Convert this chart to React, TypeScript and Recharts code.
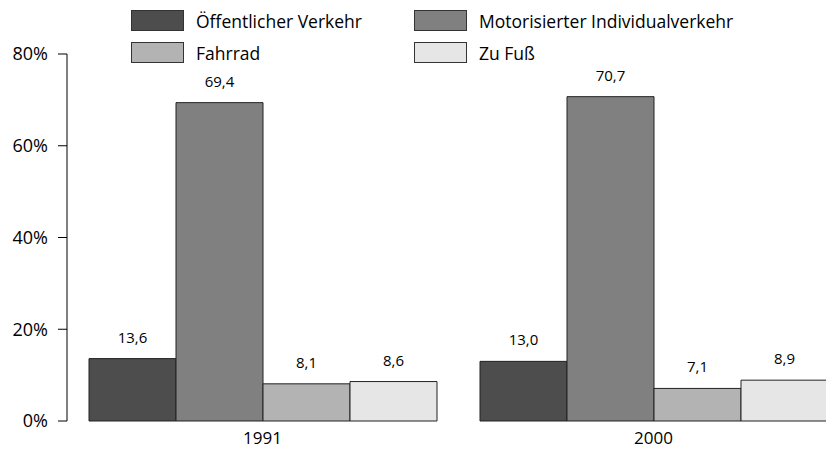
import { BarChart, Bar, XAxis, YAxis, LabelList } from 'recharts';

// ─── Data ───────────────────────────────────────────────────────────
const years = ['1991', '2000'];
const oepnv = [13.6, 13.0];
const miv = [69.4, 70.7];
const fahrrad = [8.1, 7.1];
const fuss = [8.6, 8.9];
const yTicks = [0, 20, 40, 60, 80];

const series = [
  { key: 'oepnv', name: 'Öffentlicher Verkehr', color: '#4d4d4d' },
  { key: 'miv', name: 'Motorisierter Individualverkehr', color: '#808080' },
  { key: 'fahrrad', name: 'Fahrrad', color: '#b3b3b3' },
  { key: 'fuss', name: 'Zu Fuß', color: '#e6e6e6' },
];

const data = years.map((year, i) => ({
  year,
  oepnv: oepnv[i],
  miv: miv[i],
  fahrrad: fahrrad[i],
  fuss: fuss[i],
}));

const FONT = '"Open Sans", "Noto Sans", sans-serif';
const fmt = (v: number) => v.toFixed(1).replace('.', ',');

// legend drawn as plain html, two columns x two rows
function LegendBox() {
  const cols = [
    [series[0], series[2]],
    [series[1], series[3]],
  ];
  return (
    <>
      {cols.map((col, ci) =>
        col.map((s, ri) => (
          <div
            key={s.key}
            style={{
              position: 'absolute',
              left: ci === 0 ? 131 : 414,
              top: ri === 0 ? 10 : 42,
              height: 21,
              display: 'flex',
              alignItems: 'center',
              fontFamily: FONT,
              fontSize: 17.5,
              color: '#000',
              whiteSpace: 'nowrap',
            }}
          >
            <span
              style={{
                display: 'inline-block',
                width: 51,
                height: 19,
                background: s.color,
                border: '1px solid #333',
                marginRight: 12,
              }}
            />
            {s.name}
          </div>
        ))
      )}
    </>
  );
}

export default function App() {
  return (
    <div style={{ position: 'absolute', left: 0, top: 0, width: 826, height: 450, overflow: 'hidden', background: '#fff' }}>
      <LegendBox />
      <BarChart
        width={860}
        height={450}
        data={data}
        margin={{ top: 54, right: 11, bottom: 0, left: 0 }}
        barCategoryGap={22}
        barGap={0}
        style={{ fontFamily: FONT }}
      >
        <XAxis
          dataKey="year"
          axisLine={false}
          tickLine={false}
          height={29}
          tickMargin={5}
          fontSize={17}
          tick={{ fill: '#000', fontSize: 17 }}
        />
        <YAxis
          domain={[0, 80]}
          ticks={yTicks}
          width={67}
          tickSize={9}
          tickMargin={10}
          tickFormatter={(v: number) => `${v}%`}
          stroke="#000"
          fontSize={18}
          tick={{ fill: '#000', fontSize: 18 }}
        />
        {series.map((s) => (
          <Bar key={s.key} dataKey={s.key} name={s.name} fill={s.color} stroke="#222" strokeWidth={1} isAnimationActive={false}>
            <LabelList dataKey={s.key} position="top" offset={16} formatter={(v: number) => fmt(v)} fill="#000" fontSize={15} />
          </Bar>
        ))}
      </BarChart>
    </div>
  );
}
